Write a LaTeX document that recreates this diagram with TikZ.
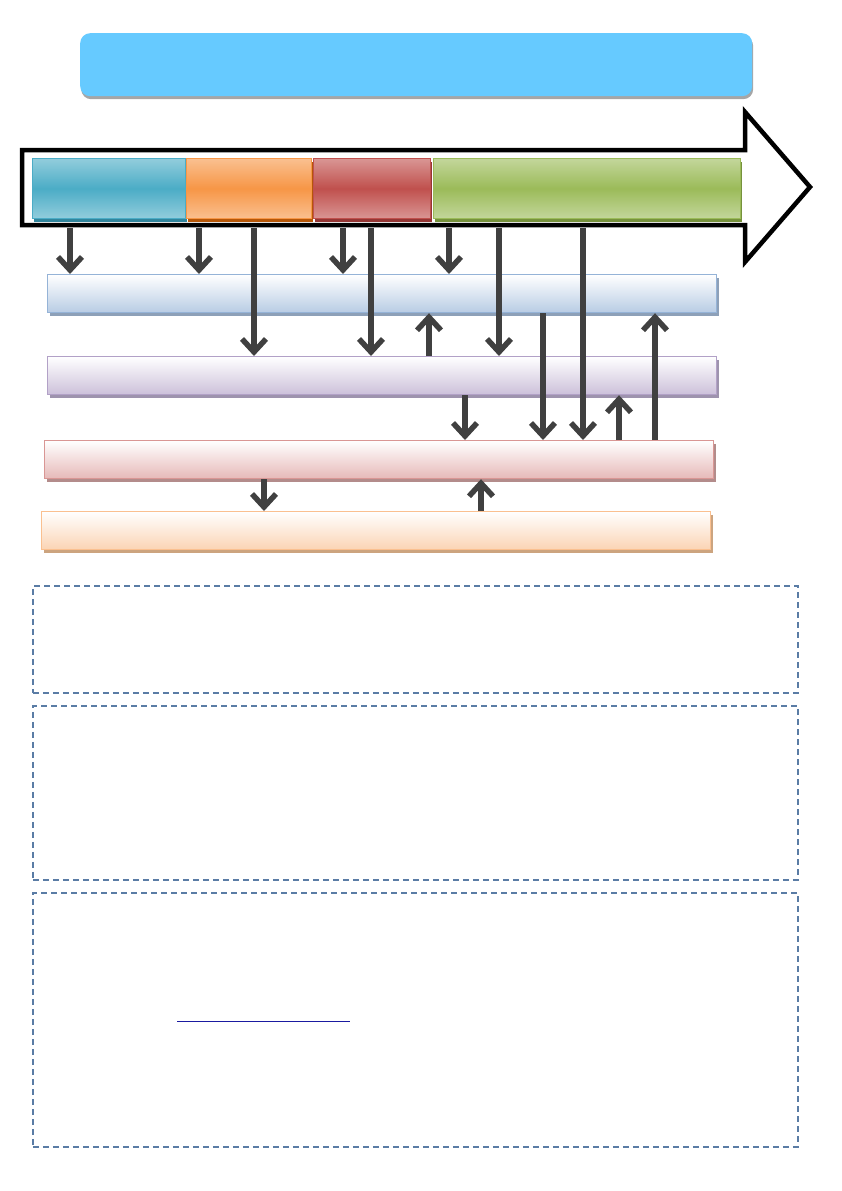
\documentclass[tikz,border=0pt]{standalone}
\usetikzlibrary{arrows.meta,shadows}
\definecolor{titleblue}{HTML}{66CAFF}
\definecolor{arrowgray}{HTML}{404040}
\definecolor{framblue}{HTML}{5A7CA5}
\definecolor{linkblue}{HTML}{1A1AA0}
\definecolor{bluemid}{HTML}{4BACC6}\definecolor{bluelt}{HTML}{92CDDC}\definecolor{bluedk}{HTML}{31859C}
\definecolor{orgmid}{HTML}{F79646}\definecolor{orglt}{HTML}{FAC090}\definecolor{orgdk}{HTML}{B65708}
\definecolor{redmid}{HTML}{C0504D}\definecolor{redlt}{HTML}{D99694}\definecolor{reddk}{HTML}{943634}
\definecolor{grnmid}{HTML}{9BBB59}\definecolor{grnlt}{HTML}{C3D69B}\definecolor{grndk}{HTML}{76923C}
\definecolor{lblueln}{HTML}{95B3D7}\definecolor{lbluebg}{HTML}{B8CCE4}\definecolor{lbluesh}{HTML}{8DA0B8}
\definecolor{lvioln}{HTML}{B2A1C7}\definecolor{lviobg}{HTML}{CCC0DA}\definecolor{lviosh}{HTML}{9E93AE}
\definecolor{lredln}{HTML}{D99694}\definecolor{lredbg}{HTML}{E6B9B8}\definecolor{lredsh}{HTML}{B38C8B}
\definecolor{lorgln}{HTML}{FAC090}\definecolor{lorgbg}{HTML}{FBD4B4}\definecolor{lorgsh}{HTML}{CCA47F}
\tikzset{
  flow/.style={arrowgray,line width=5.5pt,-{Straight Barb[length=13pt,width=24pt]}},
  stage/.style n args={3}{draw=#1,line width=1pt,anchor=north west,inner sep=0pt,minimum height=60pt,
    top color=#2,bottom color=#2,middle color=#1,
    drop shadow={shadow xshift=1.5pt,shadow yshift=-3pt,fill=#3,opacity=1}},
  layer/.style n args={3}{draw=#1,line width=1.2pt,anchor=north west,inner sep=0pt,minimum height=38pt,
    minimum width=669pt,top color=white,bottom color=#2,
    drop shadow={shadow xshift=2pt,shadow yshift=-3pt,fill=#3,opacity=1}},
  notebox/.style={draw=framblue,line width=1.6pt,dash pattern=on 6pt off 4pt,anchor=north west,
    inner sep=0pt,minimum width=765pt}
}
\begin{document}
\begin{tikzpicture}[x=1pt,y=-1pt]
\useasboundingbox (0,0) rectangle (842,1191);
% title
  \node[anchor=north west,fill=titleblue,rounded corners=10pt,minimum width=672pt,minimum height=63pt,
    inner sep=0pt,drop shadow={shadow xshift=1pt,shadow yshift=-3pt,fill=gray!70,opacity=1}] (title) at (80,33) {};
% time line
  \draw[line width=4.5pt,fill=white,miter limit=20] (22,150) -- (745,150) -- (745,112) -- (810,187)
    -- (745,262) -- (745,225) -- (22,225) -- cycle;
  \coordinate (tl) at (0,228);
% stages
  \node[stage={bluemid}{bluelt}{bluedk},minimum width=153pt] (s1) at (32,158) {};
  \node[stage={orgmid}{orglt}{orgdk},minimum width=125pt] (s2) at (186,158) {};
  \node[stage={redmid}{redlt}{reddk},minimum width=117pt] (s3) at (313,158) {};
  \node[stage={grnmid}{grnlt}{grndk},minimum width=307pt] (s4) at (433,158) {};
% layers
  \node[layer={lblueln}{lbluebg}{lbluesh}] (l1) at (47,274) {};
  \node[layer={lvioln}{lviobg}{lviosh}] (l2) at (47,356) {};
  \node[layer={lredln}{lredbg}{lredsh}] (l3) at (44,440) {};
  \node[layer={lorgln}{lorgbg}{lorgsh}] (l4) at (41,511) {};
% arrows from time line
  \draw[flow] (tl -| 70,0) -- (l1.north -| 70,0);
  \draw[flow] (tl -| 199,0) -- (l1.north -| 199,0);
  \draw[flow] (tl -| 343,0) -- (l1.north -| 343,0);
  \draw[flow] (tl -| 449,0) -- (l1.north -| 449,0);
  \draw[flow] (tl -| 254,0) -- (l2.north -| 254,0);
  \draw[flow] (tl -| 371,0) -- (l2.north -| 371,0);
  \draw[flow] (tl -| 499,0) -- (l2.north -| 499,0);
  \draw[flow] (tl -| 583,0) -- (l3.north -| 583,0);
% arrows between layers
  \draw[flow] (l2.north -| 429,0) -- (l1.south -| 429,0);
  \draw[flow] (l1.south -| 543,0) -- (l3.north -| 543,0);
  \draw[flow] (l3.north -| 655,0) -- (l1.south -| 655,0);
  \draw[flow] (l2.south -| 465,0) -- (l3.north -| 465,0);
  \draw[flow] (l3.north -| 619,0) -- (l2.south -| 619,0);
  \draw[flow] (l3.south -| 264,0) -- (l4.north -| 264,0);
  \draw[flow] (l4.north -| 481,0) -- (l3.south -| 481,0);
% notes
  \node[notebox,minimum height=107pt] (n1) at (32,585) {};
  \node[notebox,minimum height=174pt] (n2) at (32,705) {};
  \node[notebox,minimum height=254pt] (n3) at (32,892) {};
  \coordinate (u1) at (177,1021);
  \coordinate (u2) at (350,1021);
  \draw[linkblue,line width=1pt] (u1) -- (u2);
\end{tikzpicture}
\end{document}
